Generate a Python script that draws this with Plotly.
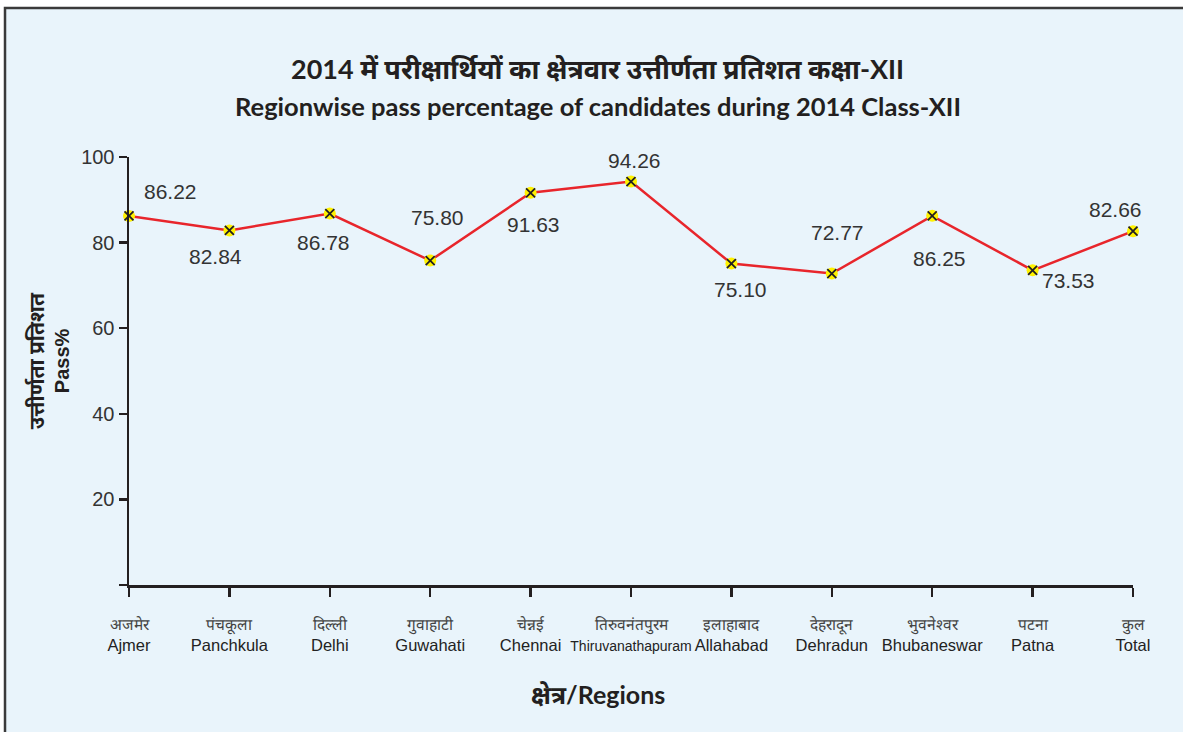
import plotly.graph_objects as go

regions_hi = ["अजमेर", "पंचकूला", "दिल्ली", "गुवाहाटी", "चेन्नई", "तिरुवनंतपुरम",
              "इलाहाबाद", "देहरादून", "भुवनेश्वर", "पटना", "कुल"]
regions_en = ["Ajmer", "Panchkula", "Delhi", "Guwahati", "Chennai", "Thiruvanathapuram",
              "Allahabad", "Dehradun", "Bhubaneswar", "Patna", "Total"]
pass_pct = [86.22, 82.84, 86.78, 75.80, 91.63, 94.26, 75.10, 72.77, 86.25, 73.53, 82.66]
y_ticks = [0, 20, 40, 60, 80, 100]
y_ticktext = ["", "20", "40", "60", "80", "100"]

# label offsets (pixels) for the value labels
label_dx = [41, -14, -6, 7, 3, 3, 9, 6, 7, 36, -18]
label_dy = [24, -26, -29, 43, -32, 21, -26, 41, -43, -10, 22]

x_idx = list(range(len(regions_en)))
ticktext = []
for h, e in zip(regions_hi, regions_en):
    en_size = 14 if len(e) > 12 else 16.5
    ticktext.append(f'<span style="font-size:15.5px;color:#444">{h}</span><br>'
                    f'<span style="font-size:{en_size}px;color:#222">{e}</span>')

fig = go.Figure()
fig.add_trace(go.Scatter(
    x=x_idx, y=pass_pct, mode="lines+markers",
    line=dict(color="#E8252B", width=2.5),
    marker=dict(symbol="circle", size=12, color="#FFF200", line=dict(width=0)),
    hoverinfo="skip", showlegend=False, cliponaxis=False))
fig.add_trace(go.Scatter(
    x=x_idx, y=pass_pct, mode="markers",
    marker=dict(symbol="x-thin", size=9, line=dict(color="#231F20", width=1.8)),
    hoverinfo="skip", showlegend=False, cliponaxis=False))

annotations = []
for i, v in enumerate(pass_pct):
    annotations.append(dict(x=i, y=v, xref="x", yref="y", text=f"{v:.2f}",
                            showarrow=False, xshift=label_dx[i], yshift=label_dy[i],
                            xanchor="center", yanchor="middle",
                            font=dict(family="Liberation Sans, Arial", size=21, color="#333")))

title_font = "Lato, Noto Sans, sans-serif"
common = dict(xref="paper", yref="paper", showarrow=False, xanchor="center", yanchor="middle")
annotations += [
    dict(x=0.467, y=1.207, **common,
         text="<b>2014 में परीक्षार्थियों का क्षेत्रवार उत्तीर्णता प्रतिशत कक्षा-XII</b>",
         font=dict(family=title_font, size=27, color="#231F20")),
    dict(x=0.467, y=1.119, **common,
         text="<b>Regionwise pass percentage of candidates during 2014 Class-XII</b>",
         font=dict(family=title_font, size=25.5, color="#231F20")),
    dict(x=0.467, y=-0.2547, **common,
         text="<b>क्षेत्र/Regions</b>",
         font=dict(family=title_font, size=25, color="#231F20")),
    dict(x=-0.0936, y=0.523, **common, textangle=-90,
         text="<b>उत्तीर्णता प्रतिशत</b>",
         font=dict(family=title_font, size=21, color="#231F20")),
    dict(x=-0.0667, y=0.523, **common, textangle=-90,
         text="<b>Pass%</b>",
         font=dict(family="Liberation Sans, Arial", size=20, color="#231F20")),
]

fig.update_layout(
    width=1183, height=732,
    margin=dict(l=129, r=50, t=157, b=147),
    paper_bgcolor="white", plot_bgcolor="rgba(0,0,0,0)",
    annotations=annotations,
    shapes=[dict(type="rect", xref="paper", yref="paper", layer="below",
                 x0=-0.1235, x1=1.2, y0=-0.6, y1=1.348,
                 fillcolor="#E9F4FB", line=dict(color="#3A3A3A", width=2.5))],
    xaxis=dict(range=[0, 10], tickmode="array", tickvals=x_idx, ticktext=ticktext,
               showgrid=False, zeroline=False, showline=True, linecolor="#231F20", linewidth=2.5,
               ticks="outside", ticklen=9, tickwidth=2.5, tickcolor="#231F20",
               ticklabelstandoff=14,
               tickfont=dict(family="Liberation Sans, Arial", size=16, color="#222"),
               tickangle=0, fixedrange=True),
    yaxis=dict(range=[0, 100], tickmode="array", tickvals=y_ticks, ticktext=y_ticktext,
               showgrid=False, zeroline=False, showline=True, linecolor="#231F20", linewidth=2.5,
               ticks="outside", ticklen=8, tickwidth=2.5, tickcolor="#231F20",
               tickfont=dict(family="Liberation Sans, Arial", size=20, color="#333"),
               fixedrange=True),
)

fig.write_html("out.html", config={"displayModeBar": False, "staticPlot": True},
               post_script="document.body.style.margin='0';document.body.style.overflow='hidden';")
